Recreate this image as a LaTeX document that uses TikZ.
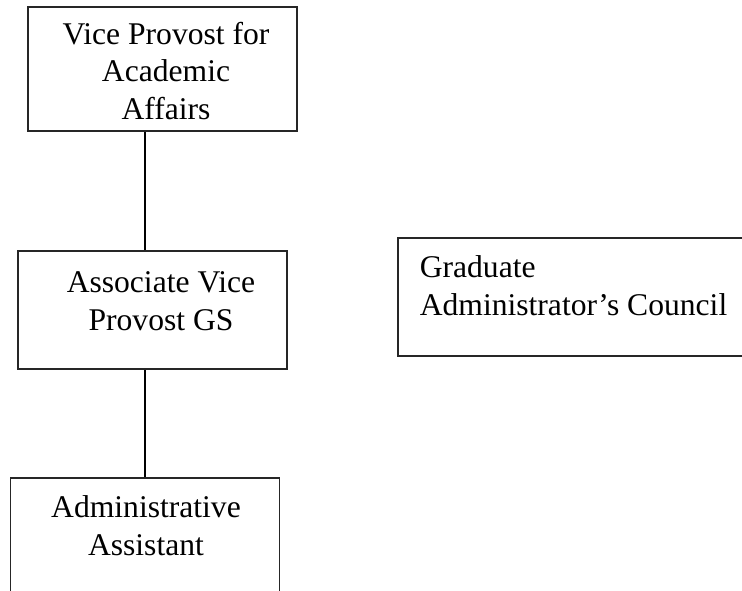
\documentclass[tikz,border=0pt]{standalone}
\usepackage{fontspec}
\setmainfont{Liberation Serif}
\usetikzlibrary{positioning}

\begin{document}
\begin{tikzpicture}[x=0.5pt,y=-0.5pt,thick]

\tikzstyle{unit}=[rectangle, draw=black!85, line width=0.75pt, inner sep=0pt, minimum width=134.5pt]
\tikzstyle{lbl}=[inner sep=0pt, font=\fontsize{15.8pt}{18.6pt}\selectfont, anchor=base]

	\useasboundingbox (0,0) rectangle (742,590);
	\clip (0,0) rectangle (742,590);

	\node[unit, minimum height=62pt] (vp) at (162.5,69) {};
	\node[unit, minimum height=59pt] (avp) at (152.5,310) {};
	\node[unit, minimum height=65pt, anchor=north] (aa) at (145,477) {};
	\node[unit, minimum width=181.5pt, minimum height=59pt, anchor=north west] (gac) at (397,237) {};

	\node[lbl, align=center] (vpt) at (166,119) {Vice Provost for\\Academic\\Affairs};
	\node[lbl, align=center] (avpt) at (161,330) {Associate Vice\\Provost GS};
	\node[lbl, align=center] (aat) at (146,555) {Administrative\\Assistant};
	\node[lbl, align=left, anchor=base west] (gact) at (419,315) {Graduate\\Administrator’s Council};

	% reporting lines
	\draw[line width=0.75pt] (vp.south -| aa.north) -- (avp.north -| aa.north);
	\draw[line width=0.75pt] (avp.south -| aa.north) -- (aa.north);
\end{tikzpicture}
\end{document}
